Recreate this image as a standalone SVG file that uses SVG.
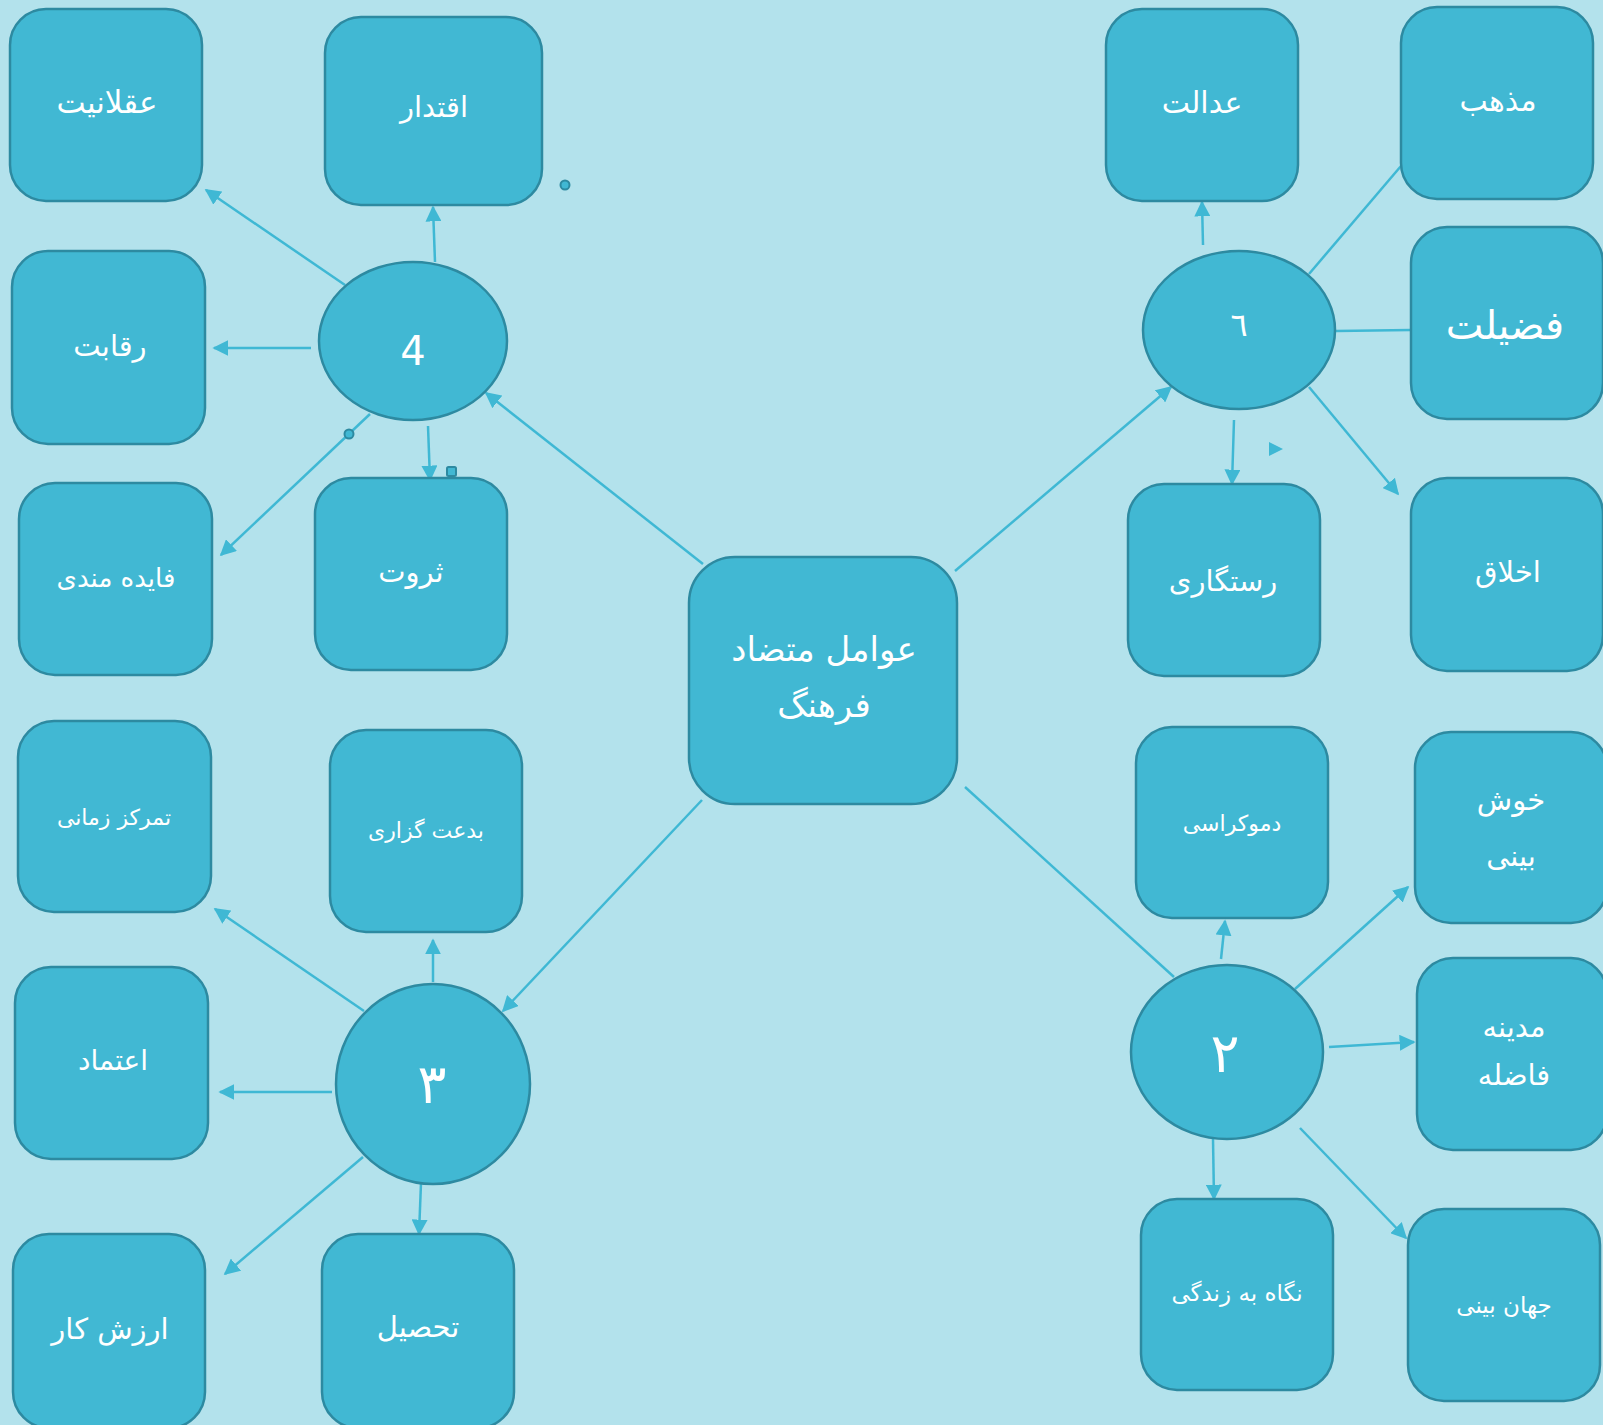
<svg xmlns="http://www.w3.org/2000/svg" width="1603" height="1425" viewBox="0 0 1603 1425">
<defs>
<style>
.bx{fill:#41b8d3;stroke:#2d8aa1;stroke-width:2.5}
.t{fill:#ffffff;font-family:"DejaVu Sans","Noto Sans",sans-serif;text-anchor:middle;dominant-baseline:central}
.c{stroke:#3fb8d4;stroke-width:2.5;fill:none}
.a{marker-end:url(#ah)}
</style>
<marker id="ah" viewBox="0 0 10 10" refX="9" refY="5" markerWidth="16" markerHeight="16" markerUnits="userSpaceOnUse" orient="auto">
<path d="M0,0 L10,5 L0,10 z" fill="#3fb8d4"/>
</marker>
</defs>
<rect x="0" y="0" width="1603" height="1425" fill="#b3e2ec"/>

<g id="connectors">
<line class="c a" x1="703" y1="564" x2="486" y2="393"/>
<line class="c a" x1="955" y1="571" x2="1171" y2="387"/>
<line class="c a" x1="702" y1="800" x2="503" y2="1011"/>
<line class="c" x1="965" y1="787" x2="1174" y2="977"/>

<line class="c a" x1="345" y1="285" x2="206" y2="190"/>
<line class="c a" x1="435" y1="262" x2="433" y2="207"/>
<line class="c a" x1="311" y1="348" x2="214" y2="348"/>
<line class="c a" x1="370" y1="414" x2="221" y2="555"/>
<line class="c a" x1="428" y1="426" x2="430" y2="480"/>

<line class="c a" x1="1203" y1="245" x2="1202" y2="202"/>
<line class="c" x1="1309" y1="274" x2="1401" y2="166"/>
<line class="c" x1="1336" y1="331" x2="1411" y2="330"/>
<line class="c a" x1="1309" y1="387" x2="1398" y2="494"/>
<line class="c a" x1="1234" y1="420" x2="1232" y2="484"/>

<line class="c a" x1="1221" y1="959" x2="1225" y2="921"/>
<line class="c a" x1="1295" y1="989" x2="1408" y2="887"/>
<line class="c a" x1="1329" y1="1047" x2="1414" y2="1042"/>
<line class="c a" x1="1213" y1="1139" x2="1214" y2="1199"/>
<line class="c a" x1="1300" y1="1128" x2="1406" y2="1238"/>

<line class="c a" x1="364" y1="1011" x2="215" y2="909"/>
<line class="c a" x1="433" y1="982" x2="433" y2="940"/>
<line class="c a" x1="332" y1="1092" x2="220" y2="1092"/>
<line class="c a" x1="363" y1="1157" x2="225" y2="1274"/>
<line class="c a" x1="421" y1="1183" x2="419" y2="1234"/>

<circle cx="349" cy="434" r="4.5" fill="#41b8d3" stroke="#2d8aa1" stroke-width="2"/>
<circle cx="565" cy="185" r="4.5" fill="#41b8d3" stroke="#2d8aa1" stroke-width="2"/>
<rect x="447" y="467" width="9" height="9" rx="1.5" fill="#41b8d3" stroke="#2d8aa1" stroke-width="2"/>
<path d="M1269,442 L1283,449 L1269,456 z" fill="#3fb8d4"/>
</g>

<g id="n-center"><rect class="bx" x="689" y="557" width="268" height="247" rx="46"/>
<text class="t" x="824" y="649" font-size="34">عوامل متضاد</text>
<text class="t" x="824" y="705" font-size="34">فرهنگ</text></g>

<g id="n-4"><ellipse class="bx" cx="413" cy="341" rx="94" ry="79"/><text class="t" x="413" y="351" font-size="40">4</text></g>
<g id="n-1"><ellipse class="bx" cx="1239" cy="330" rx="96" ry="79"/><text class="t" x="1239" y="325" font-size="32">٦</text></g>
<g id="n-2"><ellipse class="bx" cx="1227" cy="1052" rx="96" ry="87"/><text class="t" x="1225" y="1053" font-size="54">٢</text></g>
<g id="n-3"><ellipse class="bx" cx="433" cy="1084" rx="97" ry="100"/><text class="t" x="432" y="1084" font-size="54">٣</text></g>

<g id="n-aqlaniat"><rect class="bx" x="10" y="9" width="192" height="192" rx="36"/><text class="t" x="107" y="102" font-size="31">عقلانیت</text></g>
<g id="n-eqtedar"><rect class="bx" x="325" y="17" width="217" height="188" rx="36"/><text class="t" x="434" y="107" font-size="29">اقتدار</text></g>
<g id="n-reqabat"><rect class="bx" x="12" y="251" width="193" height="193" rx="36"/><text class="t" x="110" y="346" font-size="29">رقابت</text></g>
<g id="n-faideh"><rect class="bx" x="19" y="483" width="193" height="192" rx="36"/><text class="t" x="116" y="578" font-size="26">فایده مندی</text></g>
<g id="n-servat"><rect class="bx" x="315" y="478" width="192" height="192" rx="36"/><text class="t" x="411" y="572" font-size="29">ثروت</text></g>

<g id="n-edalat"><rect class="bx" x="1106" y="9" width="192" height="192" rx="36"/><text class="t" x="1202" y="102" font-size="30">عدالت</text></g>
<g id="n-mazhab"><rect class="bx" x="1401" y="7" width="192" height="192" rx="36"/><text class="t" x="1498" y="100" font-size="30">مذهب</text></g>
<g id="n-fazilat"><rect class="bx" x="1411" y="227" width="192" height="192" rx="36"/><text class="t" x="1505" y="325" font-size="40">فضیلت</text></g>
<g id="n-akhlaq"><rect class="bx" x="1411" y="478" width="192" height="193" rx="36"/><text class="t" x="1508" y="572" font-size="29">اخلاق</text></g>
<g id="n-rastegari"><rect class="bx" x="1128" y="484" width="192" height="192" rx="36"/><text class="t" x="1223" y="581" font-size="29">رستگاری</text></g>

<g id="n-demokrasi"><rect class="bx" x="1136" y="727" width="192" height="191" rx="36"/><text class="t" x="1232" y="823" font-size="22">دموکراسی</text></g>
<g id="n-khoshbini"><rect class="bx" x="1415" y="732" width="192" height="191" rx="36"/>
<text class="t" x="1511" y="800" font-size="29">خوش</text><text class="t" x="1511" y="856" font-size="29">بینی</text></g>
<g id="n-madineh"><rect class="bx" x="1417" y="958" width="190" height="192" rx="36"/>
<text class="t" x="1514" y="1027" font-size="29">مدینه</text><text class="t" x="1514" y="1075" font-size="29">فاضله</text></g>
<g id="n-negah"><rect class="bx" x="1141" y="1199" width="192" height="191" rx="36"/><text class="t" x="1237" y="1293" font-size="23">نگاه به زندگی</text></g>
<g id="n-jahanbini"><rect class="bx" x="1408" y="1209" width="192" height="192" rx="36"/><text class="t" x="1504" y="1305" font-size="23">جهان بینی</text></g>

<g id="n-tamarkoz"><rect class="bx" x="18" y="721" width="193" height="191" rx="36"/><text class="t" x="114" y="817" font-size="22">تمرکز زمانی</text></g>
<g id="n-bedat"><rect class="bx" x="330" y="730" width="192" height="202" rx="36"/><text class="t" x="426" y="830" font-size="22">بدعت گزاری</text></g>
<g id="n-etemad"><rect class="bx" x="15" y="967" width="193" height="192" rx="36"/><text class="t" x="113" y="1060" font-size="28">اعتماد</text></g>
<g id="n-arzesh"><rect class="bx" x="13" y="1234" width="192" height="194" rx="36"/><text class="t" x="110" y="1329" font-size="29">ارزش کار</text></g>
<g id="n-tahsil"><rect class="bx" x="322" y="1234" width="192" height="194" rx="36"/><text class="t" x="418" y="1327" font-size="29">تحصیل</text></g>
</svg>
